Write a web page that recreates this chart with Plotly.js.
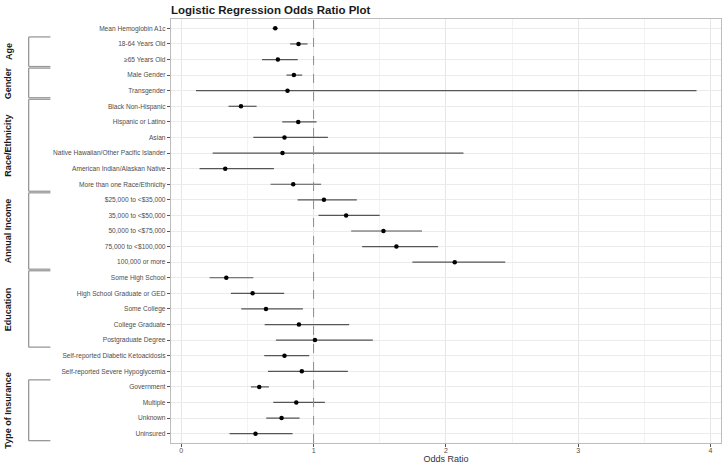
<!DOCTYPE html>
<html>
<head>
<meta charset="utf-8">
<script src="https://cdn.plot.ly/plotly-3.0.1.min.js"></script>
<style>html,body{margin:0;padding:0;background:#fff;}#chart{width:724px;height:465px;}</style>
</head>
<body>
<div id="chart"></div>
<script>
const labels = [
  "Mean Hemoglobin A1c","18-64 Years Old","≥65 Years Old","Male Gender","Transgender",
  "Black Non-Hispanic","Hispanic or Latino","Asian","Native Hawaiian/Other Pacific Islander",
  "American Indian/Alaskan Native","More than one Race/Ethnicity",
  "$25,000 to <$35,000","35,000 to <$50,000","50,000 to <$75,000","75,000 to <$100,000","100,000 or more",
  "Some High School","High School Graduate or GED","Some College","College Graduate","Postgraduate Degree",
  "Self-reported Diabetic Ketoacidosis","Self-reported Severe Hypoglycemia",
  "Government","Multiple","Unknown","Uninsured"
];
const oddsRatio = [0.71,0.886,0.73,0.851,0.803,0.451,0.884,0.78,0.765,0.332,0.846,1.078,1.246,1.528,1.626,2.067,0.34,0.539,0.64,0.889,1.01,0.78,0.911,0.589,0.869,0.758,0.561];
const ciLow  = [0.69,0.823,0.61,0.795,0.111,0.357,0.763,0.544,0.237,0.138,0.675,0.879,1.037,1.284,1.367,1.747,0.214,0.375,0.453,0.63,0.715,0.627,0.655,0.526,0.695,0.642,0.365];
const ciHigh = [0.73,0.954,0.88,0.914,3.895,0.569,1.022,1.108,2.133,0.70,1.057,1.327,1.50,1.82,1.941,2.449,0.544,0.778,0.919,1.269,1.448,0.967,1.259,0.662,1.085,0.894,0.841];
const groupNames = ["Age","Gender","Race/Ethnicity","Annual Income","Education","Type of Insurance"];
const groupFirst = ["18-64 Years Old","Male Gender","Black Non-Hispanic","$25,000 to <$35,000","Some High School","Government"];
const groupLast  = ["≥65 Years Old","Transgender","More than one Race/Ethnicity","100,000 or more","Postgraduate Degree","Uninsured"];
const xTicks = [0,1,2,3,4];
const refValue = 1;

const safe = s => s.replace(/</g,"&lt;");
const cats = labels.map(safe);

const trace = {
  type: "scatter", mode: "markers",
  x: oddsRatio, y: cats,
  error_x: {
    type: "data", symmetric: false,
    array: oddsRatio.map((v,i)=>ciHigh[i]-v),
    arrayminus: oddsRatio.map((v,i)=>v-ciLow[i]),
    color: "#555555", thickness: 1.2, width: 0
  },
  marker: {color: "#000", size: 4.5},
  hoverinfo: "skip", showlegend: false
};

const shapes = [{
  type: "line", xref: "x", yref: "paper", x0: refValue, x1: refValue, y0: 0, y1: 1,
  line: {color: "#8c8c8c", width: 1, dash: "dash"}
}];
const annotations = [];
const bx = -0.2588, bx2 = -0.2193, lx = -0.2957;
groupNames.forEach((g,i)=>{
  const a = labels.indexOf(groupFirst[i]) - 0.45;
  const b = labels.indexOf(groupLast[i]) + 0.45;
  const lc = {color: "#999999", width: 1.3};
  shapes.push({type:"line", xref:"paper", yref:"y", x0:bx, x1:bx, y0:a, y1:b, line:lc});
  shapes.push({type:"line", xref:"paper", yref:"y", x0:bx, x1:bx2, y0:a, y1:a, line:lc});
  shapes.push({type:"line", xref:"paper", yref:"y", x0:bx, x1:bx2, y0:b, y1:b, line:lc});
  annotations.push({xref:"paper", yref:"y", x:lx, y:(a+b)/2, text:g, textangle:-90,
    showarrow:false, xanchor:"center", yanchor:"middle",
    font:{family:"Liberation Sans, Arial, sans-serif", size:9, color:"#1a1a1a", weight:"bold"}});
});

const layout = {
  width: 724, height: 465,
  margin: {l: 171, r: 3, t: 19, b: 22},
  paper_bgcolor: "#fff", plot_bgcolor: "#fff",
  font: {family: "Liberation Sans, Arial, sans-serif"},
  title: {text: "Logistic Regression Odds Ratio Plot", x: 171/724, xanchor: "left", xref: "container",
    y: 1 - 10/465, yanchor: "middle",
    font: {size: 11.5, color: "#1a1a1a", weight: "bold"}},
  xaxis: {
    range: [-0.078, 4.08], tickvals: xTicks, ticks: "outside", ticklen: 3, tickcolor: "#555",
    tickfont: {size: 7, color: "#4d4d4d"}, ticklabelstandoff: -3,
    showgrid: true, gridcolor: "#e6e6e6", gridwidth: 1,
    minor: {dtick: 0.5, tick0: 0, showgrid: true, gridcolor: "#f3f3f3", gridwidth: 1},
    zeroline: false, showline: true, mirror: true, linecolor: "#bdbdbd", linewidth: 1.2,
    title: {text: "Odds Ratio", font: {size: 9, color: "#333"}, standoff: 0}
  },
  yaxis: {
    type: "category", categoryorder: "array", categoryarray: cats,
    range: [26.6, -0.6], ticks: "outside", ticklen: 3, tickcolor: "#555",
    tickfont: {size: 6.6, color: "#4d4d4d"},
    showgrid: true, gridcolor: "#ebebeb", gridwidth: 1,
    zeroline: false, showline: true, mirror: true, linecolor: "#bdbdbd", linewidth: 1.2
  },
  shapes: shapes, annotations: annotations
};
Plotly.newPlot("chart", [trace], layout, {staticPlot: true, displayModeBar: false});
</script>
</body>
</html>
